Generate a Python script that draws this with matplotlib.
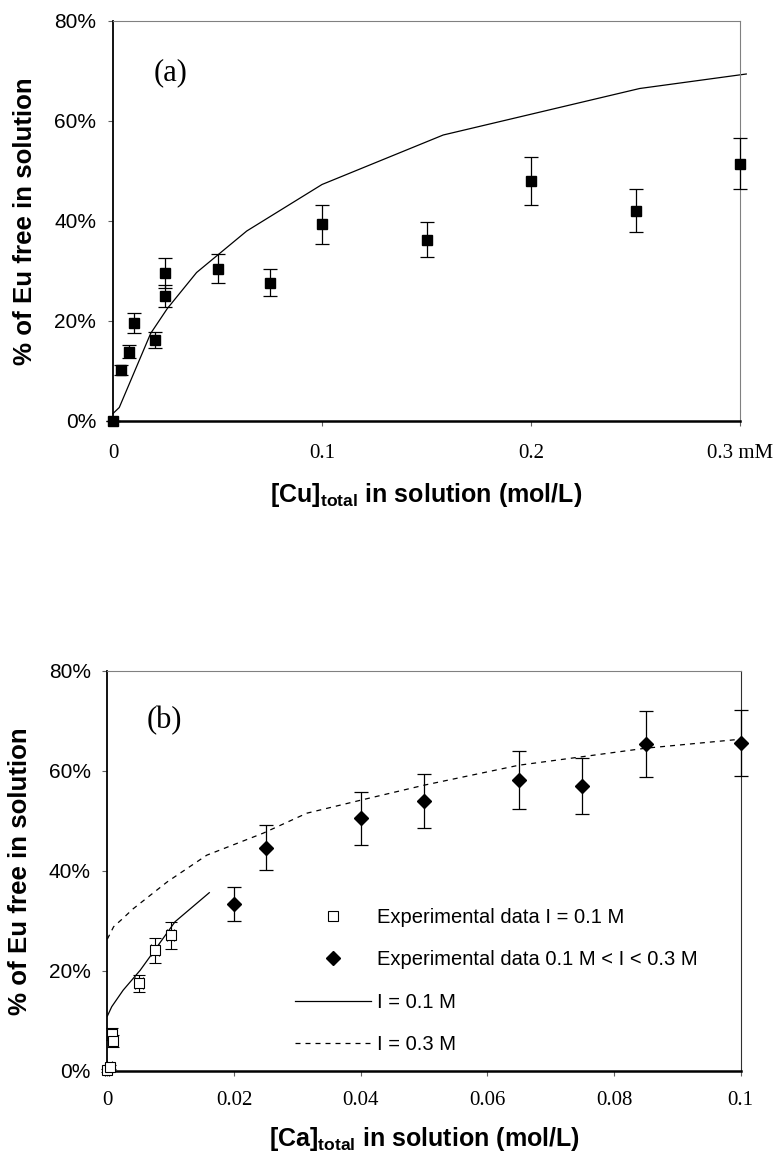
import matplotlib
matplotlib.use('Agg')
import matplotlib.pyplot as plt
from matplotlib.ticker import FuncFormatter
from matplotlib.lines import Line2D

plt.rcParams['font.family'] = ['Liberation Sans', 'DejaVu Sans']
plt.rcParams['mathtext.fontset'] = 'custom'
plt.rcParams['mathtext.rm'] = 'Liberation Sans'
plt.rcParams['mathtext.bf'] = 'Liberation Sans:bold'

# panel (a): Cu
cu_x = [0, 0.004, 0.0075, 0.01, 0.02, 0.025, 0.025, 0.05, 0.075, 0.1, 0.15, 0.2, 0.25, 0.3]
cu_y = [0, 10.3, 13.9, 19.7, 16.2, 29.7, 25.1, 30.5, 27.7, 39.4, 36.3, 48.0, 42.1, 51.5]
cu_err = [0, 1.0, 1.3, 2.0, 1.6, 3.0, 2.2, 2.9, 2.7, 3.9, 3.5, 4.8, 4.3, 5.1]
cu_model_x = [0, 0.003, 0.018, 0.026, 0.04, 0.064, 0.1, 0.158, 0.252, 0.303]
cu_model_y = [1.5, 2.7, 17.5, 22.5, 29.7, 38.0, 47.3, 57.2, 66.5, 69.4]

# panel (b): Ca
ca01_x = [0, 0.0004, 0.0007, 0.0009, 0.005, 0.0075, 0.01]
ca01_y = [0.1, 0.8, 7.3, 5.9, 17.5, 24.1, 27.1]
ca01_yerr = [0.3, 0.4, 1.2, 1.2, 1.7, 2.5, 2.7]
ca01_xerr = [0.0003, 0.0004, 0.0005, 0.0005, 0.0006, 0.0006, 0.0006]
ca03_x = [0.02, 0.025, 0.04, 0.05, 0.065, 0.075, 0.085, 0.1]
ca03_y = [33.3, 44.6, 50.5, 53.9, 58.1, 57.0, 65.3, 65.6]
ca03_err = [3.4, 4.5, 5.3, 5.4, 5.8, 5.6, 6.6, 6.6]
model01_x = [0, 0.0007, 0.0025, 0.0052, 0.0073, 0.0107, 0.0161]
model01_y = [10.9, 12.8, 16.1, 20.1, 23.8, 29.8, 35.6]
model03_x = [0, 0.001, 0.0025, 0.004, 0.0095, 0.0157, 0.0246, 0.0315, 0.04, 0.05, 0.065, 0.075, 0.085, 0.1]
model03_y = [26.3, 28.8, 30.5, 32.3, 37.8, 43.1, 47.5, 51.5, 54.1, 57.1, 61.1, 62.8, 64.5, 66.3]

fig = plt.figure(figsize=(7.73, 11.64), dpi=100)
ax1 = fig.add_axes([113/773, 1-421/1164, 627/773, 400/1164])
ax2 = fig.add_axes([107.3/773, 1-1070.7/1164, 633.4/773, 400/1164])

pct = FuncFormatter(lambda v, p: '%d%%' % v)


def style_axes(ax, right_col, ylab_x, xpad):
	ax.set_ylim(0, 80)
	ax.set_yticks([0, 20, 40, 60, 80])
	ax.yaxis.set_major_formatter(pct)
	ax.spines['left'].set_color('black')
	ax.spines['left'].set_linewidth(1.3)
	ax.spines['bottom'].set_color('black')
	ax.spines['bottom'].set_linewidth(1.8)
	ax.spines['top'].set_color('#808080')
	ax.spines['right'].set_color(right_col)
	ax.tick_params(axis='both', direction='out', length=3.5, width=0.8, color='#606060')
	ax.tick_params(axis='y', labelsize=15, pad=8.5)
	ax.tick_params(axis='x', labelsize=15, pad=xpad)
	for t in ax.get_xticklabels():
		t.set_family('Liberation Serif')
	ax.set_ylabel('% of Eu free in solution', fontsize=18.6, fontweight='bold')
	ax.yaxis.set_label_coords(ylab_x, 0.5)


# ---- (a)
ax1.plot(cu_model_x, cu_model_y, color='black', lw=0.9, clip_on=False)
ax1.errorbar(cu_x, cu_y, yerr=cu_err, fmt='s', color='black', ms=7.5, ecolor='black',
	elinewidth=0.9, capsize=5, capthick=0.9, clip_on=False, zorder=5)
ax1.set_xlim(0, 0.3)
ax1.set_xticks([0, 0.1, 0.2, 0.3])
ax1.set_xticklabels(['0', '0.1', '0.2', '0.3 mM'])
style_axes(ax1, '#808080', -0.121, 13)
ax1.set_xlabel(r'[Cu]$_{\mathbf{total}}$ in solution (mol/L)', fontsize=18, fontweight='bold', labelpad=13)
ax1.text(0.064, 0.87, '(a)', transform=ax1.transAxes, fontsize=22, family='Liberation Serif', va='center')

# ---- (b)
ax2.plot(model01_x, model01_y, color='black', lw=0.9)
ax2.plot(model03_x, model03_y, color='black', lw=0.9, dashes=(4, 4), clip_on=False)
ax2.errorbar(ca01_x, ca01_y, yerr=ca01_yerr, xerr=ca01_xerr, fmt='s', mfc='white', mec='black',
	ms=7, mew=0.8, ecolor='black', elinewidth=0.8, capsize=4, capthick=0.8, clip_on=False, zorder=5)
ax2.errorbar(ca03_x, ca03_y, yerr=ca03_err, fmt='D', color='black', ms=7.5, ecolor='black',
	elinewidth=0.9, capsize=5, capthick=0.9, clip_on=False, zorder=5)
ax2.set_xlim(0, 0.1)
ax2.set_xticks([0, 0.02, 0.04, 0.06, 0.08, 0.1])
ax2.set_xticklabels(['0', '0.02', '0.04', '0.06', '0.08', '0.1'])
style_axes(ax2, '#303030', -0.119, 11)
ax2.set_xlabel(r'[Ca]$_{\mathbf{total}}$ in solution (mol/L)', fontsize=18, fontweight='bold', labelpad=11)
ax2.text(0.062, 0.875, '(b)', transform=ax2.transAxes, fontsize=22, family='Liberation Serif', va='center')

handles = [
	Line2D([], [], ls='none', marker='s', mfc='white', mec='black', ms=7.5, mew=0.8),
	Line2D([], [], ls='none', marker='D', color='black', ms=7.5),
	Line2D([], [], color='black', lw=0.9),
	Line2D([], [], color='black', lw=0.9, dashes=(4, 4)),
]
labels = ['Experimental data I = 0.1 M', 'Experimental data 0.1 M < I < 0.3 M', 'I = 0.1 M', 'I = 0.3 M']
ax2.legend(handles, labels, loc='upper left', bbox_to_anchor=(0.296, 0.406), frameon=False,
	fontsize=14.5, handlelength=3.8, handletextpad=0.3, labelspacing=1.15, borderpad=0, borderaxespad=0)

fig.savefig('out.png', dpi=100)
